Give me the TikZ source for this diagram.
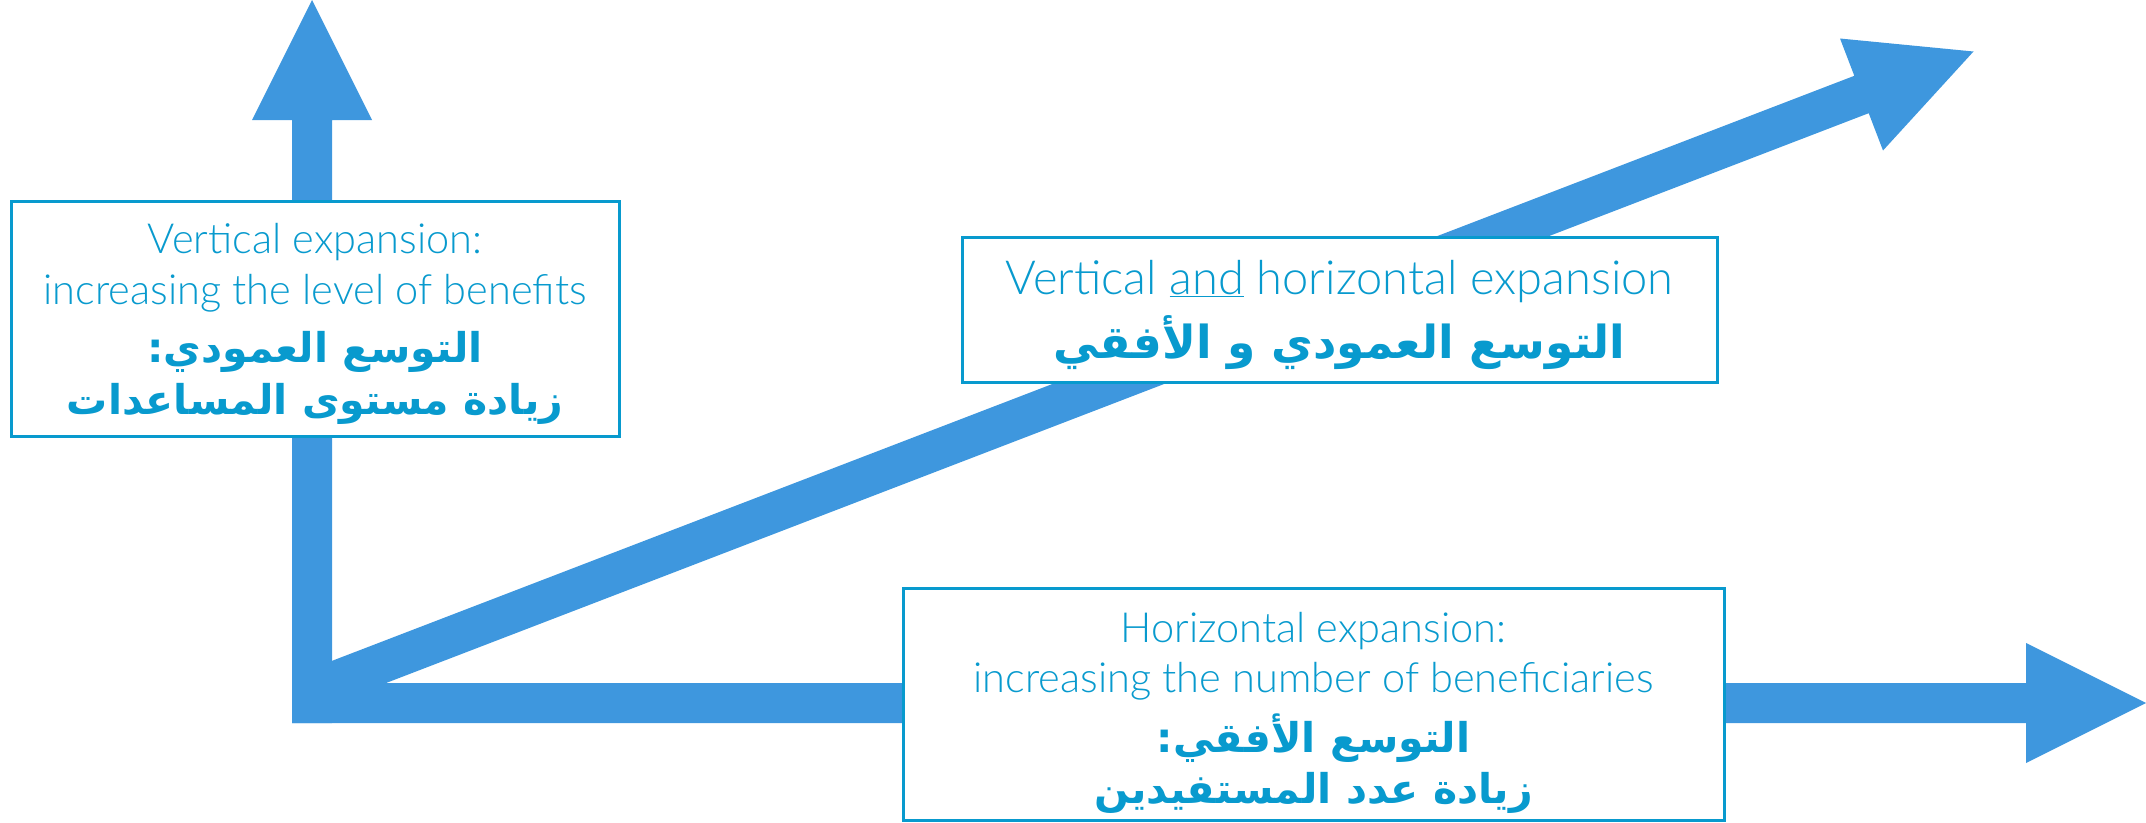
\documentclass[tikz,border=0pt]{standalone}
\usepackage{fontspec}
\setmainfont{Lato Light}
\newfontfamily\arabicfont[Script=Arabic]{DejaVu Sans}
\TeXXeTstate=1
\definecolor{arrowblue}{RGB}{62,151,222}
\definecolor{txtblue}{RGB}{8,154,206}
\begin{document}
\begin{tikzpicture}[x=1pt,y=-1pt,
  arrowfill/.style={fill=arrowblue, draw=none},
  box/.style={draw=txtblue, line width=3pt, fill=white, inner sep=0pt, outer sep=0pt},
  en/.style={text=txtblue, anchor=base, inner sep=0pt, font=\fontsize{41.5}{50}\selectfont},
  enbig/.style={text=txtblue, anchor=base, inner sep=0pt, font=\fontsize{47}{56}\selectfont},
  ar/.style={text=txtblue, anchor=base, inner sep=0pt, font=\arabicfont\bfseries\fontsize{41}{48}\selectfont},
  arbig/.style={text=txtblue, anchor=base, inner sep=0pt, font=\arabicfont\bfseries\fontsize{45.5}{54}\selectfont}]
\useasboundingbox (0,0) rectangle (2146,822);
% vertical arrow
\fill[arrowfill] (292,723) -- (292,120) -- (252,120) -- (312,0) -- (372,120) -- (332,120) -- (332,723) -- cycle;
% horizontal arrow
\fill[arrowfill] (292,683) -- (2026,683) -- (2026,643) -- (2146,703) -- (2026,763) -- (2026,723) -- (292,723) -- cycle;
% diagonal arrow
\fill[arrowfill] (304.8,671.3) -- (1854.3,75.8) -- (1840,38.5) -- (1973.5,51.5) -- (1883,150.5) -- (1868.7,113.2) -- (319.2,708.7) -- cycle;
% boxes
\node[box, minimum width=608pt, minimum height=235pt] (b1) at (315,318.5) {};
\node[box, minimum width=755pt, minimum height=145pt] (b2) at (1339.5,309.5) {};
\node[box, minimum width=821pt, minimum height=232pt] (b3) at (1313.5,704) {};
% texts box 1
\node[en] (t1a) at (315,253) {Vertical expansion:};
\node[en] (t1b) at (315,304) {increasing the level of benefits};
\node[ar] (t1c) at (315,362) {\beginR التوسع العمودي:\endR};
\node[ar] (t1d) at (315,414) {\beginR زيادة مستوى المساعدات\endR};
% texts box 2
\node[enbig] (t2a) at (1339.5,294) {Vertical \underline{and} horizontal expansion};
\node[arbig] (t2b) at (1339.5,358) {\beginR التوسع العمودي و الأفقي\endR};
% texts box 3
\node[en] (t3a) at (1313.5,642) {Horizontal expansion:};
\node[en] (t3b) at (1313.5,692) {increasing the number of beneficiaries};
\node[ar] (t3c) at (1313.5,752) {\beginR التوسع الأفقي:\endR};
\node[ar] (t3d) at (1313.5,803) {\beginR زيادة عدد المستفيدين\endR};
\end{tikzpicture}
\end{document}
